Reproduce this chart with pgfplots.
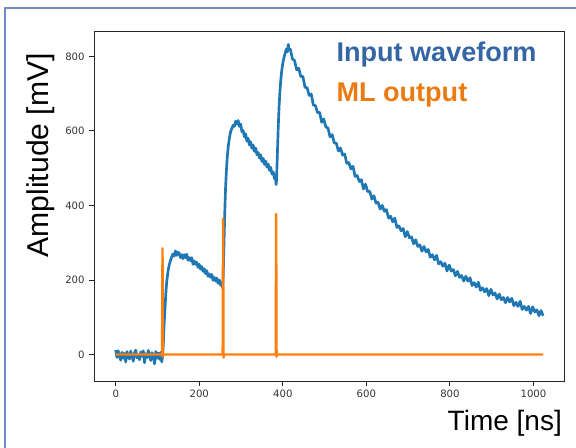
\documentclass[border=0pt]{standalone}
\usepackage{fontspec}
\setmainfont{Liberation Sans}
\newfontfamily\tickfont{DejaVu Sans}
\usepackage{pgfplots}
\usepackage{pgfplotstable}
\pgfplotsset{compat=1.18}

\definecolor{mplblue}{HTML}{1F77B4}
\definecolor{mplorange}{HTML}{FF7F0E}
\definecolor{txtblue}{RGB}{52,101,164}
\definecolor{txtorange}{RGB}{236,122,18}
\definecolor{frameblue}{RGB}{110,140,195}

% input waveform (ns, mV)
\pgfplotstableread{
t y
0 12
3 -8
6 10
9 -4
12 -15
15 6
18 -10
21 3
24 -20
27 8
30 -6
33 -12
36 9
39 -3
42 -18
45 4
48 12
51 -9
54 -2
57 -14
60 7
63 -5
66 10
69 -22
72 2
75 -8
78 11
81 -6
84 -16
87 5
90 -3
93 -25
96 8
99 -10
102 4
105 -13
108 6
110 -20
112 -8
114 30
116 85
118 125
120 165
122 195
125 222
128 240
131 252
134 262
137 270
140 264
143 278
146 266
149 274
152 272
155 260
158 268
161 257
164 268
167 260
170 269
173 253
176 260
179 252
182 260
185 242
188 251
191 242
194 248
197 234
200 242
203 229
206 236
209 223
212 230
215 217
218 225
221 210
224 216
227 207
230 215
233 199
236 207
239 197
242 205
245 191
248 200
251 186
254 192
256 178
257 200
259 290
261 380
263 450
265 495
267 530
269 555
272 580
275 598
278 606
281 615
284 612
287 626
290 618
293 628
296 612
299 618
302 598
305 601
308 584
311 592
314 572
317 580
320 562
323 571
326 553
329 562
332 545
335 554
338 536
341 542
344 527
347 536
350 518
353 526
356 510
359 519
362 503
365 511
368 494
371 502
374 484
377 490
380 472
382 478
384 456
385 470
387 540
389 610
391 665
393 705
395 735
397 758
399 775
401 788
403 798
405 806
407 815
409 820
411 812
413 832
415 818
418 819
423 793
428 789
433 764
438 768
443 746
448 746
453 717
458 716
463 695
468 699
473 669
478 668
483 649
488 650
493 623
498 632
503 610
508 608
513 584
518 590
523 568
528 567
533 546
538 554
543 535
548 538
553 513
558 515
563 498
568 505
573 478
578 480
583 464
588 469
593 444
598 457
603 437
608 438
613 417
618 426
623 406
628 408
633 390
638 400
643 384
648 389
653 366
658 371
663 356
668 366
673 341
678 345
683 332
688 338
693 316
698 330
703 313
708 316
713 297
718 308
723 290
728 294
733 277
738 290
743 275
748 282
753 261
758 268
763 254
768 266
773 243
778 249
783 237
788 245
793 224
798 240
803 224
808 228
813 211
818 223
823 207
828 212
833 197
838 210
843 197
848 206
853 185
858 193
863 181
868 194
873 172
878 179
883 168
888 177
893 158
898 175
903 160
908 165
913 149
918 162
923 147
928 153
933 139
938 153
943 141
948 151
953 131
958 140
963 129
968 143
973 121
978 129
983 119
988 129
993 110
998 128
1003 114
1008 120
1013 104
1018 118
1023 104
}\waveform

% ML output (ns, mV)
\pgfplotstableread{
t y
0 0
111 0
112 285
113 -6
114 0
256 0
257 365
258 -8
259 0
383 0
384 377
385 -6
386 0
1023 0
}\mloutput

\begin{document}
\begin{tikzpicture}
\path[use as bounding box] (0,0) rectangle (432pt,336pt);
\draw[frameblue, line width=0.9pt] (3.75pt,0) -- (3.75pt,330pt) -- (432pt,330pt);
\begin{axis}[
    at={(70.5pt,50.25pt)}, anchor=south west,
    scale only axis,
    width=352.5pt, height=262.5pt,
    xmin=-52, xmax=1073,
    ymin=-71, ymax=868,
    xtick={0,200,...,1000},
    ytick={0,200,...,800},
    tick pos=left,
    tick align=outside,
    major tick length=3.5pt,
    axis line style={black!85, line width=0.7pt},
    every tick/.style={black!85, line width=0.7pt},
    /pgf/number format/assume math mode=true,
    /pgf/number format/1000 sep={},
    tick label style={font=\tickfont\fontsize{7.6}{9}\selectfont, text=black!80},
    xlabel={Time [ns]},
    ylabel={Amplitude [mV]},
    xlabel style={font=\fontsize{21}{24}\selectfont,
        at={(axis description cs:0.874,-0.12)}, anchor=center},
    ylabel style={font=\fontsize{22.6}{25}\selectfont,
        at={(axis description cs:-0.113,0.645)}, anchor=center},
    clip=false,
]
\addplot[mplblue, line width=2.0pt, line join=round] table[x=t, y=y] {\waveform};
\addplot[mplorange, line width=1.8pt, line join=round] table[x=t, y=y] {\mloutput};
\node[anchor=base west, text=txtblue, font=\bfseries\fontsize{20.3}{24}\selectfont]
    at (axis description cs:0.506,0.912) {Input waveform};
\node[anchor=base west, text=txtorange, font=\bfseries\fontsize{20.3}{24}\selectfont]
    at (axis description cs:0.506,0.798) {ML output};
\end{axis}
\end{tikzpicture}
\end{document}
